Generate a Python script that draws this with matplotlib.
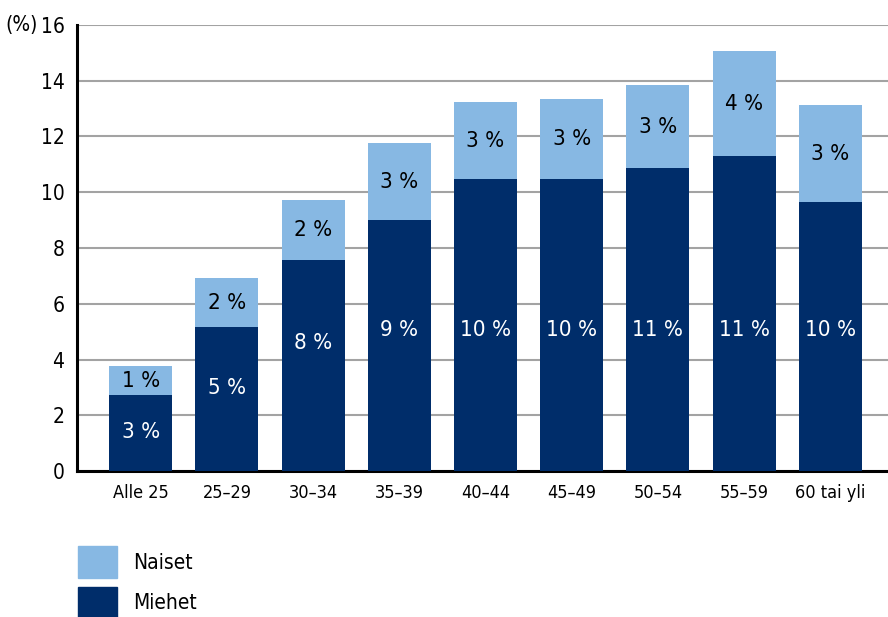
import matplotlib
matplotlib.use("Agg")
import matplotlib.pyplot as plt
import numpy as np
from matplotlib.patches import Patch

plt.rcParams['font.family'] = ['DejaVu Sans']
plt.rcParams['font.stretch'] = 'condensed'

# ikäryhmät
ryhmat = ["Alle 25", "25–29", "30–34", "35–39", "40–44", "45–49", "50–54", "55–59", "60 tai yli"]
miehet = [2.72, 5.16, 7.56, 9.00, 10.47, 10.49, 10.86, 11.29, 9.64]
naiset = [1.04, 1.76, 2.15, 2.76, 2.76, 2.84, 2.97, 3.76, 3.48]
miehet_txt = ["3 %", "5 %", "8 %", "9 %", "10 %", "10 %", "11 %", "11 %", "10 %"]
naiset_txt = ["1 %", "2 %", "2 %", "3 %", "3 %", "3 %", "3 %", "4 %", "3 %"]
# tekstien korkeus pylväässä
miehet_txt_y = [1.40, 2.97, 4.59, 5.05, 5.05, 5.05, 5.05, 5.05, 5.05]
yticks = [0, 2, 4, 6, 8, 10, 12, 14, 16]

tumma = "#002d6a"
vaalea = "#87b8e3"

fig = plt.figure(figsize=(8.88, 6.17), dpi=100)
ax = fig.add_axes([0.0867, 0.2366, 0.9133, 0.7229])

x = np.arange(len(ryhmat))
leveys = 0.73
ax.bar(x, miehet, leveys, color=tumma, zorder=3)
ax.bar(x, naiset, leveys, bottom=miehet, color=vaalea, zorder=3)

for i in range(len(ryhmat)):
    ax.text(x[i], miehet_txt_y[i], miehet_txt[i], ha="center", va="center",
            color="white", fontsize=16, zorder=4)
    ax.text(x[i], miehet[i] + naiset[i] / 2, naiset_txt[i], ha="center", va="center",
            color="black", fontsize=16, zorder=4)

ax.set_xlim(-0.74, 8.67)
ax.set_ylim(0, 16)
ax.set_yticks(yticks)
ax.set_yticklabels([str(v) for v in yticks], fontsize=15)
ax.set_xticks(x)
ax.set_xticklabels(ryhmat, fontsize=13)
ax.tick_params(length=0, pad=9)
ax.tick_params(axis="x", pad=9)
ax.yaxis.grid(True, color="#a3a3a3", linewidth=1.5, zorder=0)
ax.set_axisbelow(True)
for s in ["top", "right"]:
    ax.spines[s].set_visible(False)
ax.spines["left"].set_linewidth(2.2)
ax.spines["bottom"].set_linewidth(2.2)

fig.text(0.043, 0.959, "(%)", fontsize=15, va="center", ha="right")

kahvat = [Patch(color=vaalea), Patch(color=tumma)]
fig.legend(kahvat, ["Naiset", "Miehet"], loc="upper left",
           bbox_to_anchor=(0.088, 0.115), frameon=False, fontsize=15,
           handlelength=1.87, handleheight=1.97, labelspacing=0.43, handletextpad=0.77,
           borderaxespad=0, borderpad=0)

fig.savefig("out.png", dpi=100)
